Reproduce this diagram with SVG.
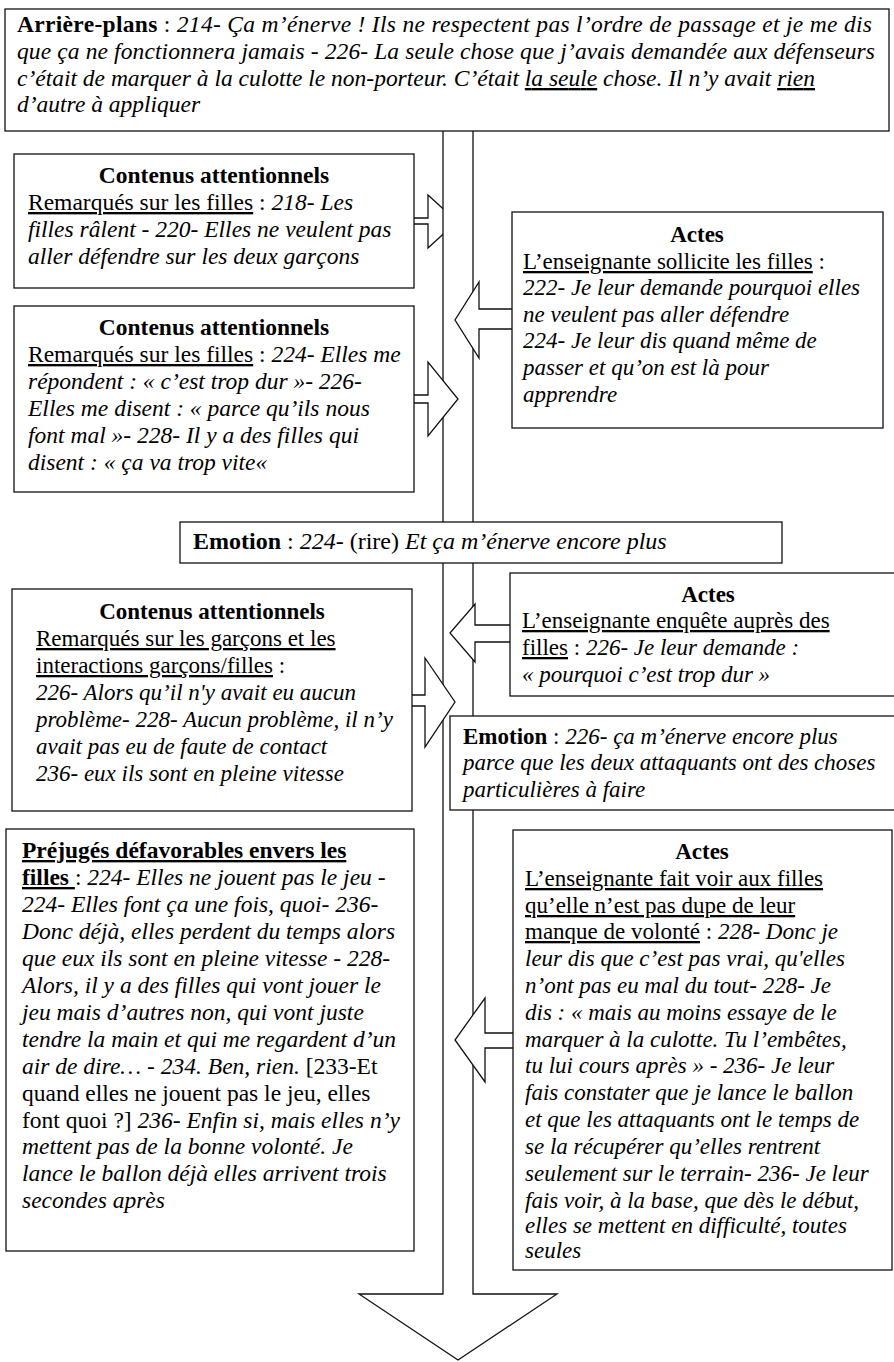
<svg xmlns="http://www.w3.org/2000/svg" width="894" height="1362" viewBox="0 0 894 1362">
<style>
.box{fill:#fff;stroke:#111;stroke-width:1.3}
.arr{fill:#fff;stroke:#111;stroke-width:1.3;stroke-linejoin:miter}
text{font-family:"Liberation Serif","Times New Roman",serif;font-size:23px;fill:#000}
.big text{font-size:24px}
.mid text{font-size:23.5px}
.i{font-style:italic}
.b{font-weight:bold}
.u{text-decoration:underline}
.c{text-anchor:middle}
</style>
<rect width="894" height="1362" fill="#fff"/>
<g id="connectors">
  <polygon id="arrow-c1" class="arr" points="410,218 428,218 428,195 457,221.5 428,248 428,224 410,224"/>
  <polygon id="stem" class="arr" points="443,125 473,125 473,1294 557,1294 458,1360 359,1294 443,1294"/>
  <polygon id="arrow-a1" class="arr" points="516,309 479,309 479,282 455,320 479,358 479,329 516,329"/>
  <polygon id="arrow-c2" class="arr" points="410,395 428,395 428,362 458,399 428,436 428,403 410,403"/>
  <polygon id="arrow-c3" class="arr" points="408,695 425,695 425,658 455,702 425,747 425,706 408,706"/>
  <polygon id="arrow-a2" class="arr" points="514,625 475,625 475,604 450,633 475,662 475,642 514,642"/>
  <polygon id="arrow-a3" class="arr" points="517,1033 485,1033 485,998 455,1040 485,1082 485,1048 517,1048"/>
</g>
<g id="node-arriere-plans" class="mid">
  <rect class="box" x="5" y="9" width="884" height="122"/>
  <text x="17" y="32" textLength="855" lengthAdjust="spacing"><tspan class="b">Arrière-plans</tspan> : <tspan class="i">214- Ça m’énerve ! Ils ne respectent pas l’ordre de passage et je me dis</tspan></text>
  <text x="17" y="59" class="i" textLength="858" lengthAdjust="spacing">que ça ne fonctionnera jamais - 226- La seule chose que j’avais demandée aux défenseurs</text>
  <text x="17" y="86" class="i" textLength="798" lengthAdjust="spacing">c’était de marquer à la culotte le non-porteur. C’était <tspan class="u">la seule</tspan> chose. Il n’y avait <tspan class="u">rien</tspan></text>
  <text x="17" y="112" class="i">d’autre à appliquer</text>
</g>
<g id="node-contenus-1" class="mid">
  <rect class="box" x="14" y="154" width="400" height="134"/>
  <text x="214" y="183" class="b c">Contenus attentionnels</text>
  <text x="28" y="210"><tspan class="u">Remarqués sur les filles</tspan> : <tspan class="i">218- Les</tspan></text>
  <text x="28" y="237" class="i">filles râlent - 220- Elles ne veulent pas</text>
  <text x="28" y="264" class="i">aller défendre sur les deux garçons</text>
</g>
<g id="node-contenus-2" class="mid">
  <rect class="box" x="14" y="306" width="400" height="186"/>
  <text x="214" y="335" class="b c">Contenus attentionnels</text>
  <text x="28" y="362"><tspan class="u">Remarqués sur les filles</tspan> : <tspan class="i">224- Elles me</tspan></text>
  <text x="28" y="389" class="i">répondent : « c’est trop dur »- 226-</text>
  <text x="28" y="416" class="i">Elles me disent : « parce qu’ils nous</text>
  <text x="28" y="443" class="i">font mal »- 228- Il y a des filles qui</text>
  <text x="28" y="470" class="i">disent : « ça va trop vite«</text>
</g>
<g id="node-actes-1">
  <rect class="box" x="512" y="212" width="371" height="216"/>
  <text x="697" y="242" class="b c">Actes</text>
  <text x="523" y="269"><tspan class="u">L’enseignante sollicite les filles</tspan> :</text>
  <text x="523" y="295" class="i">222- Je leur demande pourquoi elles</text>
  <text x="523" y="322" class="i">ne veulent pas aller défendre</text>
  <text x="523" y="348" class="i">224- Je leur dis quand même de</text>
  <text x="523" y="375" class="i">passer et qu’on est là pour</text>
  <text x="523" y="402" class="i">apprendre</text>
</g>
<g id="node-emotion-1" class="big">
  <rect class="box" x="180" y="522" width="602" height="41"/>
  <text x="193" y="549"><tspan class="b">Emotion</tspan> : <tspan class="i">224-</tspan> (rire) <tspan class="i">Et ça m’énerve encore plus</tspan></text>
</g>
<g id="node-contenus-3">
  <rect class="box" x="12" y="589" width="400" height="222"/>
  <text x="212" y="619" class="b c">Contenus attentionnels</text>
  <text x="36" y="646"><tspan class="u">Remarqués sur les garçons et les</tspan></text>
  <text x="36" y="673"><tspan class="u">interactions garçons/filles</tspan> :</text>
  <text x="36" y="700" class="i">226- Alors qu’il n'y avait eu aucun</text>
  <text x="36" y="727" class="i">problème- 228- Aucun problème, il n’y</text>
  <text x="36" y="754" class="i">avait pas eu de faute de contact</text>
  <text x="36" y="781" class="i">236- eux ils sont en pleine vitesse</text>
</g>
<g id="node-actes-2">
  <rect class="box" x="510" y="573" width="390" height="123"/>
  <text x="708" y="602" class="b c">Actes</text>
  <text x="522" y="628"><tspan class="u">L’enseignante enquête auprès des</tspan></text>
  <text x="522" y="655"><tspan class="u">filles</tspan> : <tspan class="i">226- Je leur demande :</tspan></text>
  <text x="522" y="682" class="i">« pourquoi c’est trop dur »</text>
</g>
<g id="node-emotion-2">
  <rect class="box" x="450" y="716" width="450" height="94"/>
  <text x="463" y="744"><tspan class="b">Emotion</tspan> : <tspan class="i">226- ça m’énerve encore plus</tspan></text>
  <text x="463" y="770" class="i">parce que les deux attaquants ont des choses</text>
  <text x="463" y="797" class="i">particulières à faire</text>
</g>
<g id="node-prejuges" class="mid">
  <rect class="box" x="6" y="829" width="408" height="422"/>
  <text x="22" y="858" class="b"><tspan class="u">Préjugés défavorables envers les</tspan></text>
  <text x="22" y="885"><tspan class="b u">filles </tspan>: <tspan class="i">224- Elles ne jouent pas le jeu -</tspan></text>
  <text x="22" y="912" class="i">224- Elles font ça une fois, quoi- 236-</text>
  <text x="22" y="939" class="i">Donc déjà, elles perdent du temps alors</text>
  <text x="22" y="966" class="i">que eux ils sont en pleine vitesse - 228-</text>
  <text x="22" y="993" class="i">Alors, il y a des filles qui vont jouer le</text>
  <text x="22" y="1020" class="i">jeu mais d’autres non, qui vont juste</text>
  <text x="22" y="1047" class="i">tendre la main et qui me regardent d’un</text>
  <text x="22" y="1074"><tspan class="i">air de dire… - 234. Ben, rien.</tspan> [233-Et</text>
  <text x="22" y="1101">quand elles ne jouent pas le jeu, elles</text>
  <text x="22" y="1128">font quoi ?] <tspan class="i">236- Enfin si, mais elles n’y</tspan></text>
  <text x="22" y="1154" class="i">mettent pas de la bonne volonté. Je</text>
  <text x="22" y="1181" class="i">lance le ballon déjà elles arrivent trois</text>
  <text x="22" y="1208" class="i">secondes après</text>
</g>
<g id="node-actes-3">
  <rect class="box" x="513" y="830" width="379" height="440"/>
  <text x="702" y="859" class="b c">Actes</text>
  <text x="525" y="886"><tspan class="u">L’enseignante fait voir aux filles</tspan></text>
  <text x="525" y="913"><tspan class="u">qu’elle n’est pas dupe de leur</tspan></text>
  <text x="525" y="939"><tspan class="u">manque de volonté</tspan> : <tspan class="i">228- Donc je</tspan></text>
  <text x="525" y="966" class="i">leur dis que c’est pas vrai, qu'elles</text>
  <text x="525" y="993" class="i">n’ont pas eu mal du tout- 228- Je</text>
  <text x="525" y="1020" class="i">dis : « mais au moins essaye de le</text>
  <text x="525" y="1047" class="i">marquer à la culotte. Tu l’embêtes,</text>
  <text x="525" y="1073" class="i">tu lui cours après » - 236- Je leur</text>
  <text x="525" y="1100" class="i">fais constater que je lance le ballon</text>
  <text x="525" y="1127" class="i">et que les attaquants ont le temps de</text>
  <text x="525" y="1154" class="i">se la récupérer qu’elles rentrent</text>
  <text x="525" y="1181" class="i">seulement sur le terrain- 236- Je leur</text>
  <text x="525" y="1208" class="i">fais voir, à la base, que dès le début,</text>
  <text x="525" y="1233" class="i">elles se mettent en difficulté, toutes</text>
  <text x="525" y="1258" class="i">seules</text>
</g>
</svg>
